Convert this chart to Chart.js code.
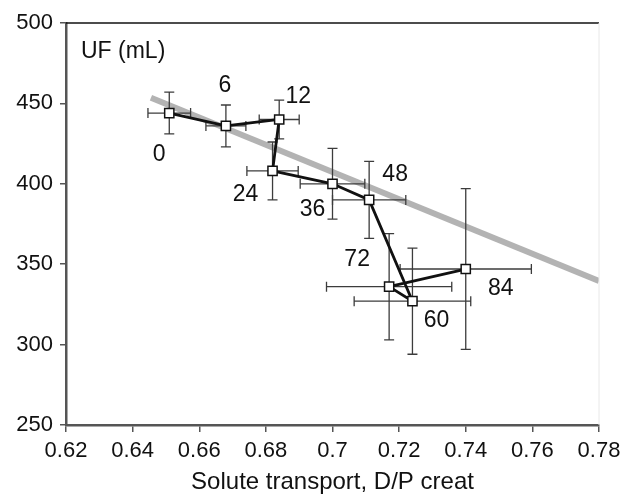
<!DOCTYPE html>
<html>
<head>
<meta charset="utf-8">
<script src="https://cdn.jsdelivr.net/npm/chart.js@4"></script>
<style>
  body { margin: 0; background: #fff; }
  #wrap { width: 621px; height: 494px; }
</style>
</head>
<body>
<div id="wrap"><canvas id="myChart" width="621" height="494"></canvas></div>
<script>
// time points (h) and measured values
const times = ['0', '6', '12', '24', '36', '48', '60', '72', '84'];
const dpCreat = [0.651, 0.668, 0.684, 0.682, 0.700, 0.711, 0.724, 0.717, 0.740];
const dpErr = [0.0064, 0.006, 0.006, 0.0077, 0.0097, 0.011, 0.0175, 0.0188, 0.0197];
const ufVals = [444, 436, 440, 408, 400, 390, 327, 336, 347];
const ufErr = [13, 13, 12, 18, 22, 24, 33, 33, 50];

// regression line ends
const trendX = [0.6455, 0.78];
const trendY = [453.5, 339.5];

const xTicks = [0.62, 0.64, 0.66, 0.68, 0.70, 0.72, 0.74, 0.76, 0.78];
const yTicks = [250, 300, 350, 400, 450, 500];

// label offsets in px from the marker
const labelOffsets = [[-10, 42], [-1, -40], [19, -23], [-27, 24], [-20, 26], [26, -25], [24, 19], [-32, -27], [35, 20]];

const FONT = "'Liberation Sans', Arial, sans-serif";

const errorBars = {
  id: 'errorBars',
  beforeDatasetDraw(chart, args) {
    if (args.index !== 1) return;
    const c = chart.ctx, xs = chart.scales.x, ys = chart.scales.y;
    c.save();
    c.strokeStyle = '#3c3c3c';
    c.lineWidth = 1.3;
    const cap = 5;
    dpCreat.forEach((v, i) => {
      const px = xs.getPixelForValue(v), py = ys.getPixelForValue(ufVals[i]);
      const x1 = xs.getPixelForValue(v - dpErr[i]), x2 = xs.getPixelForValue(v + dpErr[i]);
      const y1 = ys.getPixelForValue(ufVals[i] + ufErr[i]), y2 = ys.getPixelForValue(ufVals[i] - ufErr[i]);
      c.beginPath();
      c.moveTo(x1, py); c.lineTo(x2, py);
      c.moveTo(x1, py - cap); c.lineTo(x1, py + cap);
      c.moveTo(x2, py - cap); c.lineTo(x2, py + cap);
      c.moveTo(px, y1); c.lineTo(px, y2);
      c.moveTo(px - cap, y1); c.lineTo(px + cap, y1);
      c.moveTo(px - cap, y2); c.lineTo(px + cap, y2);
      c.stroke();
    });
    c.restore();
  },
  afterDatasetsDraw(chart) {
    const c = chart.ctx, xs = chart.scales.x, ys = chart.scales.y, a = chart.chartArea;
    c.save();
    // frame top and right
    c.strokeStyle = '#111';
    c.lineWidth = 1.5;
    c.beginPath(); c.moveTo(a.left, a.top); c.lineTo(a.right, a.top); c.stroke();
    c.strokeStyle = '#e8e8e8';
    c.lineWidth = 1;
    c.beginPath(); c.moveTo(a.right, a.top); c.lineTo(a.right, a.bottom); c.stroke();
    c.fillStyle = '#111';
    c.font = '23px ' + FONT;
    c.textAlign = 'center';
    c.textBaseline = 'middle';
    times.forEach((t, i) => {
      const px = xs.getPixelForValue(dpCreat[i]), py = ys.getPixelForValue(ufVals[i]);
      c.fillText(t, px + labelOffsets[i][0], py + labelOffsets[i][1]);
    });
    c.textAlign = 'left';
    c.fillText('UF (mL)', a.left + 15, a.top + 29);
    c.restore();
  }
};

const ctx = document.getElementById('myChart');

new Chart(ctx, {
  type: 'scatter',
  data: {
    datasets: [
      {
        label: 'trend',
        data: trendX.map((x, i) => ({ x: x, y: trendY[i] })),
        showLine: true,
        borderColor: '#b3b3b3',
        borderWidth: 6,
        pointRadius: 0,
        order: 2
      },
      {
        label: 'UF',
        data: dpCreat.map((x, i) => ({ x: x, y: ufVals[i] })),
        showLine: true,
        borderColor: '#111',
        borderWidth: 2.8,
        pointStyle: 'rect',
        pointRadius: 6.5,
        pointBackgroundColor: '#fff',
        pointBorderColor: '#111',
        pointBorderWidth: 1.5,
        order: 1
      }
    ]
  },
  options: {
    responsive: false,
    animation: false,
    layout: { padding: { top: 23, right: 22, left: 0, bottom: 0 } },
    plugins: { legend: { display: false }, tooltip: { enabled: false } },
    scales: {
      x: {
        type: 'linear',
        min: 0.62,
        max: 0.78,
        afterBuildTicks: s => { s.ticks = xTicks.map(v => ({ value: v })); },
        afterFit: s => { s.height = 69; s.paddingLeft = 0; s.paddingRight = 0; },
        grid: { drawOnChartArea: false, tickLength: 7, color: '#555', lineWidth: 1.5 },
        border: { color: '#555', width: 2.5 },
        ticks: {
          color: '#111',
          font: { family: FONT, size: 22 },
          padding: 6,
          maxRotation: 0,
          callback: v => String(+v.toFixed(2))
        },
        title: {
          display: true,
          text: 'Solute transport, D/P creat',
          color: '#111',
          font: { family: FONT, size: 24 },
          padding: { top: 0, bottom: -3 }
        }
      },
      y: {
        min: 250,
        max: 500,
        afterBuildTicks: s => { s.ticks = yTicks.map(v => ({ value: v })); },
        afterFit: s => { s.width = 66; s.paddingTop = 0; s.paddingBottom = 0; },
        grid: { drawOnChartArea: false, tickLength: 6, color: '#555', lineWidth: 1.5 },
        border: { color: '#555', width: 2.5 },
        ticks: {
          color: '#111',
          font: { family: FONT, size: 22 },
          padding: 7
        }
      }
    }
  },
  plugins: [errorBars]
});
</script>
</body>
</html>
